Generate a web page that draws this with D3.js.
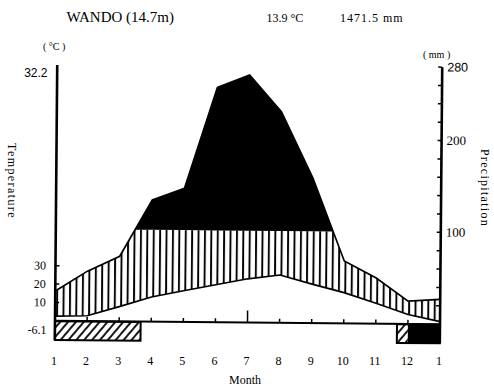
<!DOCTYPE html>
<html><head><meta charset="utf-8">
<script src="https://cdn.jsdelivr.net/npm/d3@7"></script>
<style>body{margin:0;background:#fff} svg{display:block}</style>
</head><body>
<svg id="c" width="494" height="386"></svg>
<script>
// ---- data ----
const monthLabels   = ["1","2","3","4","5","6","7","8","9","10","11","12","1"];
const temperature   = [2.5, 2.9, 8.0, 13.4, 17.0, 20.4, 23.8, 26.0, 21.2, 16.7, 11.1, 5.1, 1.4];   // °C
const precipitation = [32.5, 54.4, 70.9, 132.5, 145.5, 255.9, 269.6, 230.0, 158.0, 67.9, 49.7, 24.7, 26.9]; // mm
const tempTicks   = [10, 20, 30];
const precipTickLabels = [100, 200, 280];
const precipMinorTicks = [20,40,60,80,100,120,140,160,180,200,220,240,260,280];
const frostHatched = [[0, 2.67], [10.66, 11]];   // month-index ranges
const frostBlack   = [[11, 12]];
const station = "WANDO (14.7m)";
const meanTemp = "13.9 °C";
const annualPrecip = "1471.5 mm";
const maxTempLabel = "32.2";
const minTempLabel = "-6.1";

// ---- scales ----
const Y0 = 320.8, PXMM = 0.918;
const x  = d3.scaleLinear().domain([0, 12]).range([55, 440]);
const yP = d3.scaleLinear().domain([0, 280]).range([Y0, Y0 - 280 * PXMM]);
const yT = d3.scaleLinear().domain([0, 140]).range([Y0, Y0 - 280 * PXMM]); // 10°C = 20mm

const svg = d3.select("#c");
const serif = "'Liberation Serif', 'Times New Roman', serif";
const sans  = "'Liberation Sans', Arial, sans-serif";

const defs = svg.append("defs");
const vh = defs.append("pattern").attr("id","vh").attr("patternUnits","userSpaceOnUse")
  .attr("width",6.4).attr("height",10).attr("x",56);
vh.append("line").attr("x1",1).attr("x2",1).attr("y1",0).attr("y2",10)
  .attr("stroke","#000").attr("stroke-width",1.9);
const dg = defs.append("pattern").attr("id","dg").attr("patternUnits","userSpaceOnUse")
  .attr("width",6).attr("height",10).attr("patternTransform","rotate(40)");
dg.append("line").attr("x1",1).attr("x2",1).attr("y1",0).attr("y2",10)
  .attr("stroke","#000").attr("stroke-width",1.8);
defs.append("clipPath").attr("id","below100").append("rect")
  .attr("x",0).attr("width",494).attr("y",yP(100)).attr("height",400);

const g = svg.append("g").attr("transform", `rotate(0.5,55,${Y0})`);
const idx = d3.range(monthLabels.length);

// humid (hatched) area between temperature and precipitation, below 100 mm
g.append("path").datum(idx)
  .attr("d", d3.area().x(i => x(i)).y0(i => yT(temperature[i])).y1(i => yP(precipitation[i])))
  .attr("fill","url(#vh)").attr("clip-path","url(#below100)");

// perhumid (black) area above 100 mm: precipitation points plus the 100 mm crossings
const wet = [];
idx.forEach(i => {
  if (i > 0) {
    const a = precipitation[i - 1], b = precipitation[i];
    if ((a - 100) * (b - 100) < 0) wet.push({ m: i - 1 + (100 - a) / (b - a), p: 100 });
  }
  wet.push({ m: i, p: precipitation[i] });
});
g.append("path").datum(wet)
  .attr("d", d3.area().defined(d => d.p >= 100).x(d => x(d.m)).y0(yP(100)).y1(d => yP(d.p)))
  .attr("fill","#000");

// curves
g.append("path").datum(idx)
  .attr("d", d3.line().x(i => x(i)).y(i => yT(temperature[i])))
  .attr("fill","none").attr("stroke","#000").attr("stroke-width",1.7);
g.append("path").datum(idx)
  .attr("d", d3.line().x(i => x(i)).y(i => yP(precipitation[i])))
  .attr("fill","none").attr("stroke","#000").attr("stroke-width",1.7);

// frost bars
const barTop = Y0 + 0.5, barBot = 340;
frostHatched.forEach(r => {
  g.append("rect").attr("x", x(r[0])).attr("y", barTop).attr("width", x(r[1]) - x(r[0]))
   .attr("height", barBot - barTop).attr("fill","url(#dg)");
});
frostBlack.forEach(r => {
  g.append("rect").attr("x", x(r[0])).attr("y", barTop).attr("width", x(r[1]) - x(r[0]))
   .attr("height", barBot - barTop).attr("fill","#000");
});
g.append("rect").attr("x", x(frostHatched[0][0])).attr("y", barTop)
  .attr("width", x(frostHatched[0][1]) - x(frostHatched[0][0])).attr("height", barBot - barTop)
  .attr("fill","none").attr("stroke","#000").attr("stroke-width",2);
g.append("rect").attr("x", x(frostHatched[1][0])).attr("y", barTop)
  .attr("width", x(frostBlack[0][1]) - x(frostHatched[1][0])).attr("height", barBot - barTop)
  .attr("fill","none").attr("stroke","#000").attr("stroke-width",2);

// baseline + month ticks
g.append("line").attr("x1", x(0)).attr("x2", x(12)).attr("y1", Y0).attr("y2", Y0)
  .attr("stroke","#000").attr("stroke-width",2);
g.selectAll(".mt").data(d3.range(1, 12)).join("line")
  .attr("x1", i => x(i)).attr("x2", i => x(i))
  .attr("y1", Y0).attr("y2", i => i === 6 ? Y0 - 12 : Y0 - 4)
  .attr("stroke","#000").attr("stroke-width",1.5);

// left axis
g.append("line").attr("x1",55).attr("x2",55).attr("y1",65).attr("y2",barBot)
  .attr("stroke","#000").attr("stroke-width",2.6);
g.selectAll(".lt").data(tempTicks).join("line")
  .attr("x1",55).attr("x2",59).attr("y1",d => yT(d)).attr("y2",d => yT(d))
  .attr("stroke","#000").attr("stroke-width",1.5);
g.selectAll(".ll").data(tempTicks).join("text")
  .attr("x",45.5).attr("y",d => yT(d) + 4).attr("text-anchor","end")
  .attr("font-family",serif).attr("font-size",12).text(d => d);

// right axis
g.append("line").attr("x1",440).attr("x2",440).attr("y1",yP(280)).attr("y2",barBot)
  .attr("stroke","#000").attr("stroke-width",2.6);
g.selectAll(".rt").data(precipMinorTicks).join("line")
  .attr("x1",436).attr("x2",440).attr("y1",d => yP(d)).attr("y2",d => yP(d))
  .attr("stroke","#000").attr("stroke-width",1.5);
g.selectAll(".rl").data(precipTickLabels).join("text")
  .attr("x",445).attr("y",d => yP(d) + 4.3)
  .attr("font-family",d => d === 280 ? sans : serif).attr("font-size",d => d === 280 ? 12.5 : 13)
  .text(d => d);

// month labels
svg.selectAll(".ml").data(idx).join("text")
  .attr("x", i => x(i) - 1).attr("y", 365).attr("text-anchor","middle")
  .attr("font-family",serif).attr("font-size",12).text(i => monthLabels[i]);
svg.append("text").attr("x",245).attr("y",384).attr("text-anchor","middle")
  .attr("font-family",serif).attr("font-size",12).text("Month");

// header texts
svg.append("text").attr("x",66.5).attr("y",22).attr("font-family",serif).attr("font-size",15).text(station);
svg.append("text").attr("x",266.5).attr("y",22).attr("font-family",serif).attr("font-size",12).text(meanTemp);
svg.append("text").attr("x",340).attr("y",22).attr("font-family",serif).attr("font-size",12)
  .attr("letter-spacing",1).text(annualPrecip);
svg.append("text").attr("x",43).attr("y",50).attr("font-family",serif).attr("font-size",10).text("( °C )");
svg.append("text").attr("x",423).attr("y",58).attr("font-family",serif).attr("font-size",10).text("( mm )");
svg.append("text").attr("x",47.5).attr("y",77).attr("text-anchor","end")
  .attr("font-family",sans).attr("font-size",12).text(maxTempLabel);
svg.append("text").attr("x",46.5).attr("y",334).attr("text-anchor","end")
  .attr("font-family",serif).attr("font-size",12).text(minTempLabel);

// axis titles (rotated)
svg.append("text").attr("transform","translate(8,181) rotate(90)").attr("text-anchor","middle")
  .attr("font-family",serif).attr("font-size",12).attr("letter-spacing",1.4).text("Temperature");
svg.append("text").attr("transform","translate(481,188) rotate(90)").attr("text-anchor","middle")
  .attr("font-family",serif).attr("font-size",12).attr("letter-spacing",1.3).text("Precipitation");
</script>
</body></html>
